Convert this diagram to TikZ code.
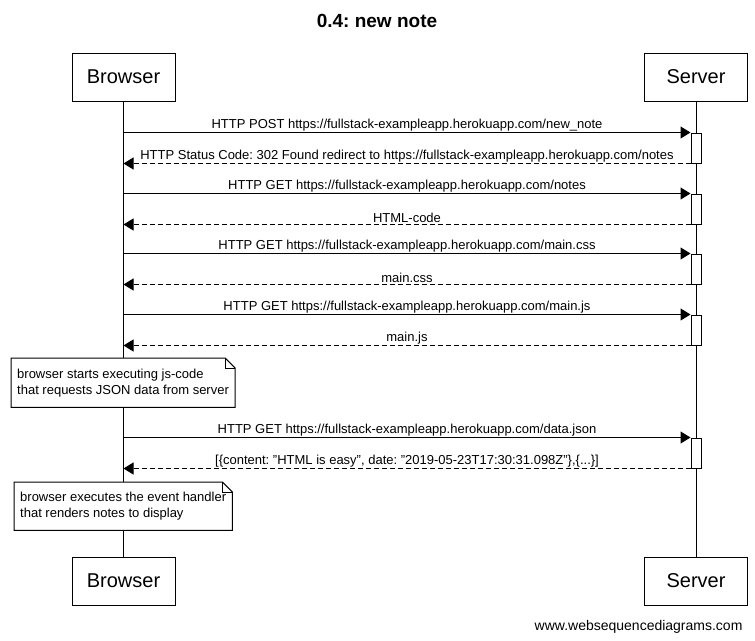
\documentclass[tikz,border=0pt]{standalone}
\usepackage{fontspec}
\setmainfont{Liberation Sans}
\usetikzlibrary{arrows.meta,backgrounds}
\tikzset{
  actor/.style={draw, line width=1pt, fill=white, minimum width=103pt, minimum height=48pt,
                inner sep=0pt, font=\fontsize{20}{23}\selectfont},
  act/.style={draw, line width=1pt, fill=white, minimum width=10pt, minimum height=30pt, inner sep=0pt},
  msg/.style={line width=1pt, -{Triangle[length=10pt, width=12pt]}},
  ret/.style={msg, dash pattern=on 5pt off 3pt},
  lbl/.style={above, inner sep=1pt, font=\fontsize{13}{15}\selectfont},
  note/.style={anchor=north west, align=left, inner xsep=6pt, inner ysep=0pt, minimum height=49pt,
               font=\fontsize{13}{16}\selectfont}
}
\newcommand{\notebox}[1]{%
  \draw[line width=1pt, fill=white] (#1.south west) -- (#1.north west) -- ([xshift=-10pt]#1.north east)
    -- ([yshift=-10pt]#1.north east) -- (#1.south east) -- cycle;
  \draw[line width=1pt] ([xshift=-10pt]#1.north east) -- ([xshift=-10pt,yshift=-10pt]#1.north east)
    -- ([yshift=-10pt]#1.north east);
}
\begin{document}
\frenchspacing
\begin{tikzpicture}[x=1pt, y=-1pt]
  \useasboundingbox (0,0) rectangle (755,640);
  \node (title) at (377,21) {\fontsize{19}{22}\selectfont\bfseries 0.4: new note};
  % lifelines
  \node[actor] (b1) at (123.5,77) {Browser};
  \node[actor] (s1) at (696,77) {Server};
  \node[actor] (b2) at (123.5,581) {Browser};
  \node[actor] (s2) at (696,581) {Server};
  \begin{scope}[on background layer]
    \draw[line width=1pt] (b1) -- (b2)
                          (s1) -- (s2);
  \end{scope}
  \foreach \i/\y in {1/148, 2/209, 3/269, 4/330, 5/453}
    \node[act] (a\i) at (696,\y) {};
  % messages
  \draw[msg] (b1 |- a1.north west) -- (a1.north west)
     node[lbl, midway] {HTTP POST https://fullstack-exampleapp.herokuapp.com/new\_note};
  \draw[ret] (a1.south west) -- (b1 |- a1.south west)
     node[lbl, midway] {HTTP Status Code: 302 Found redirect to https://fullstack-exampleapp.herokuapp.com/notes};
  \draw[msg] (b1 |- a2.north west) -- (a2.north west)
     node[lbl, midway] {HTTP GET https://fullstack-exampleapp.herokuapp.com/notes};
  \draw[ret] (a2.south west) -- (b1 |- a2.south west) node[lbl, midway] {HTML-code};
  \draw[msg] (b1 |- a3.north west) -- (a3.north west)
     node[lbl, midway] {HTTP GET https://fullstack-exampleapp.herokuapp.com/main.css};
  \draw[ret] (a3.south west) -- (b1 |- a3.south west) node[lbl, midway] {main.css};
  \draw[msg] (b1 |- a4.north west) -- (a4.north west)
     node[lbl, midway] {HTTP GET https://fullstack-exampleapp.herokuapp.com/main.js};
  \draw[ret] (a4.south west) -- (b1 |- a4.south west) node[lbl, midway] {main.js};
  % notes
  \node[note] (n1) at (11,358) {browser starts executing js-code\\that requests JSON data from server};
  \node[note, minimum height=48pt] (n2) at (14,482) {browser executes the event handler\\that renders notes to display};
  \begin{scope}[on background layer]
    \notebox{n1}
    \notebox{n2}
  \end{scope}
  \draw[msg] (b1 |- a5.north west) -- (a5.north west)
     node[lbl, midway] {HTTP GET https://fullstack-exampleapp.herokuapp.com/data.json};
  \draw[ret] (a5.south west) -- (b1 |- a5.south west)
     node[lbl, midway] {[\{content: "HTML is easy", date: "2019-05-23T17:30:31.098Z"\},\{...\}]};
  \node[anchor=base east, font=\fontsize{14}{16}\selectfont] (wsd) at (746,630) {www.websequencediagrams.com};
\end{tikzpicture}
\end{document}
